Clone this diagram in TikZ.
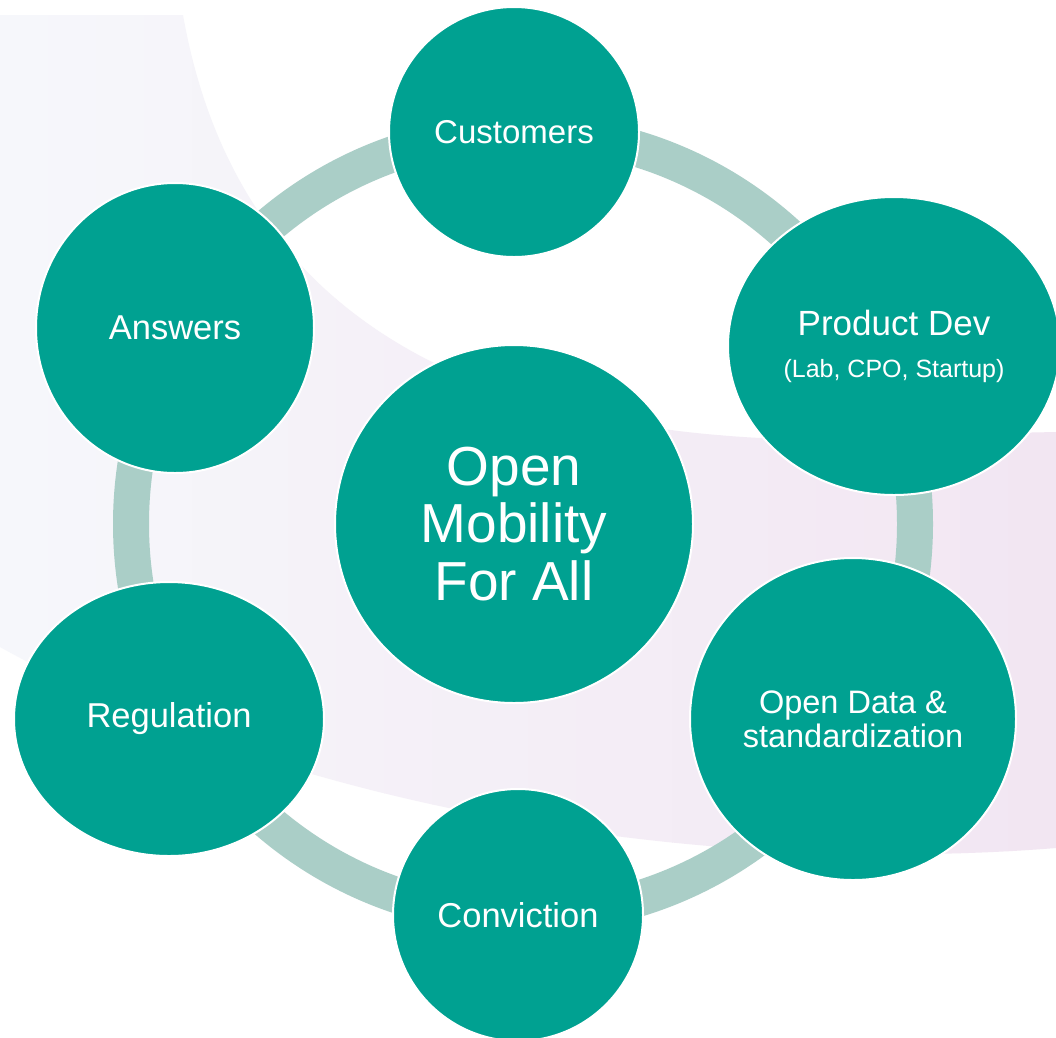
\documentclass[tikz,border=0pt]{standalone}
\usepackage{fontspec}
\setmainfont{Liberation Sans}
\usepackage{tikz}
\usetikzlibrary{shapes.geometric}
\definecolor{tealfill}{HTML}{00A191}
\definecolor{ringc}{HTML}{AACEC7}
\definecolor{bgblue}{HTML}{F6F7FB}
\definecolor{bgpink}{HTML}{F2E6F2}

\begin{document}
\begin{tikzpicture}[
  x=1pt, y=-1pt,
  every node/.style={ellipse, fill=tealfill, draw=white, line width=2pt, text=white,
    align=center, inner sep=0pt, font=\fontsize{34.5}{38}\selectfont},
  ring/.style={draw=ringc, line width=36pt}
]
\clip (0,0) rectangle (1056,1037);
\fill[white] (0,0) rectangle (1056,1037);
\begin{scope}
\clip (0,15) -- (183,15)
  .. controls (230,280) and (420,420) .. (760,438) -- (1056,432) -- (1056,848)
  .. controls (760,872) and (330,830) .. (0,647) -- cycle;
\foreach \i in {0,...,21} {
  \pgfmathtruncatemacro{\p}{\i*100/21}
  \fill[bgpink!\p!bgblue] (\i*48,0) rectangle (\i*48+49,1037);
}
\end{scope}

\coordinate (hub) at (523,524);
\draw[ring] (hub) circle[radius=392];

\node[minimum width=250, minimum height=250, font=\fontsize{33}{36}\selectfont] (cust) at (514,132) {Customers};
\node[minimum width=332, minimum height=298, font=\fontsize{35}{42}\selectfont] (prod) at (894,346)
  {Product Dev\\{\fontsize{25}{42}\selectfont (Lab, CPO, Startup)}};
\node[minimum width=326, minimum height=322, font=\fontsize{32.5}{34}\selectfont] (data) at (853,719)
  {Open Data \&\\standardization};
\node[minimum width=250, minimum height=252] (conv) at (518,915) {Conviction};
\node[minimum width=310, minimum height=274] (regu) at (169,719) {Regulation};
\node[minimum width=278, minimum height=290] (answ) at (175,328) {Answers};
\node[minimum width=358, minimum height=358, font=\fontsize{55}{57.5}\selectfont] (core) at (514,524)
  {Open\\Mobility\\For All};
\end{tikzpicture}
\end{document}
